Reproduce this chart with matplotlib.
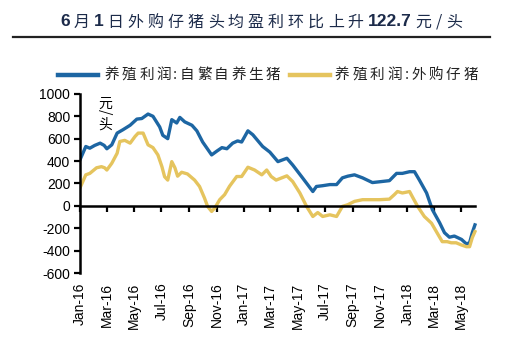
import matplotlib
matplotlib.use('Agg')
import matplotlib.pyplot as plt
import matplotlib.dates as mdates
from matplotlib.lines import Line2D
import pandas as pd

plt.rcParams['font.family'] = ['Liberation Sans', 'Noto Sans CJK SC', 'DejaVu Sans']
plt.rcParams['axes.unicode_minus'] = False

# 养殖利润:自繁自养生猪
dates_self = ['2016-01-01', '2016-01-14', '2016-01-23', '2016-02-03', '2016-02-15', '2016-02-24',
              '2016-03-01', '2016-03-12', '2016-03-24', '2016-04-06', '2016-04-22', '2016-05-07',
              '2016-05-18', '2016-06-01', '2016-06-12', '2016-06-27', '2016-07-04', '2016-07-15',
              '2016-07-24', '2016-08-04', '2016-08-11', '2016-08-22', '2016-09-07', '2016-09-18',
              '2016-10-01', '2016-10-21', '2016-11-02', '2016-11-13', '2016-11-24', '2016-12-07',
              '2016-12-18', '2016-12-27', '2017-01-10', '2017-01-21', '2017-02-12', '2017-02-28',
              '2017-03-18', '2017-04-07', '2017-04-20', '2017-05-12', '2017-06-04', '2017-06-12',
              '2017-06-26', '2017-07-12', '2017-07-27', '2017-08-09', '2017-08-21', '2017-09-05',
              '2017-09-23', '2017-10-15', '2017-10-31', '2017-11-22', '2017-12-08', '2017-12-21',
              '2018-01-06', '2018-01-17', '2018-01-28', '2018-02-13', '2018-02-26', '2018-03-14',
              '2018-03-25', '2018-04-05', '2018-04-16', '2018-05-02', '2018-05-13', '2018-05-20',
              '2018-05-26', '2018-06-01']
profit_self = [411, 530, 515, 540, 560, 540,
               510, 545, 650, 680, 720, 775,
               780, 820, 800, 705, 630, 600,
               770, 740, 790, 750, 720, 670,
               570, 455, 490, 520, 510, 560,
               580, 570, 670, 635, 530, 480,
               395, 425, 365, 250, 128, 173,
               180, 190, 190, 250, 265, 277,
               250, 208, 215, 225, 290, 290,
               305, 305, 230, 115, -35, -150,
               -240, -280, -270, -300, -340, -330,
               -240, -170]

# 养殖利润:外购仔猪
dates_buy = ['2016-01-01', '2016-01-14', '2016-01-23', '2016-02-07', '2016-02-18', '2016-02-25',
             '2016-03-01', '2016-03-12', '2016-03-24', '2016-03-30', '2016-04-10', '2016-04-22',
             '2016-05-03', '2016-05-10', '2016-05-21', '2016-06-01', '2016-06-12', '2016-06-23',
             '2016-07-02', '2016-07-08', '2016-07-15', '2016-07-24', '2016-07-31', '2016-08-06',
             '2016-08-15', '2016-08-28', '2016-09-13', '2016-09-24', '2016-10-05', '2016-10-12',
             '2016-10-21', '2016-10-28', '2016-11-08', '2016-11-19', '2016-11-30', '2016-12-16',
             '2016-12-27', '2017-01-10', '2017-01-25', '2017-02-10', '2017-02-21', '2017-03-03',
             '2017-03-14', '2017-04-07', '2017-04-20', '2017-05-06', '2017-05-21', '2017-06-04',
             '2017-06-15', '2017-06-26', '2017-07-12', '2017-07-27', '2017-08-09', '2017-08-21',
             '2017-09-05', '2017-09-23', '2017-10-15', '2017-10-31', '2017-11-22', '2017-12-03',
             '2017-12-10', '2017-12-21', '2018-01-06', '2018-01-12', '2018-01-24', '2018-02-08',
             '2018-02-24', '2018-03-09', '2018-03-20', '2018-03-31', '2018-04-09', '2018-04-20',
             '2018-05-02', '2018-05-13', '2018-05-20', '2018-05-26', '2018-06-01']
profit_buy = [160, 277, 290, 340, 350, 340,
              320, 380, 470, 575, 585, 560,
              620, 650, 650, 545, 520, 455,
              350, 260, 230, 395, 340, 265,
              300, 285, 230, 173, 70, -5,
              -50, -20, 55, 100, 175, 262,
              262, 345, 320, 277, 320, 262,
              230, 268, 217, 115, -5, -95,
              -60, -95, -80, -95, -5, 10,
              40, 55, 55, 55, 60, 100,
              128, 115, 128, 83, -5, -95,
              -155, -245, -320, -320, -330, -330,
              -350, -365, -365, -285, -230]

series_names = ['养殖利润:自繁自养生猪', '养殖利润:外购仔猪']
yticks = [1000, 800, 600, 400, 200, 0, -200, -400, -600]
xtick_dates = pd.date_range('2016-01-01', '2018-05-01', freq='2MS')

blue = '#1d66a3'
yellow = '#e5c45e'
navy = '#1c2b4a'

fig = plt.figure(figsize=(5.2, 3.53), dpi=100)
ax = fig.add_axes([0.1538, 0.2266, 0.763, 0.5074])

l1, = ax.plot(pd.to_datetime(dates_self), profit_self, color=blue, lw=2.4, solid_joinstyle='round')
l2, = ax.plot(pd.to_datetime(dates_buy), profit_buy, color=yellow, lw=2.4, solid_joinstyle='round')

x_start = mdates.date2num(pd.Timestamp('2016-01-01'))
x_end = mdates.date2num(pd.Timestamp('2018-06-01'))
ax.set_ylim(-600, 1000)
ax.set_xlim(x_start, mdates.date2num(pd.Timestamp('2018-06-05')))
ax.set_yticks(yticks)
ax.tick_params(axis='y', labelsize=10, direction='out', length=4, width=1.6, pad=3)

for s in ['top', 'right']:
    ax.spines[s].set_visible(False)
ax.spines['left'].set_linewidth(1.8)
ax.spines['left'].set_bounds(-600, 1000)
ax.spines['bottom'].set_position(('data', 0))
ax.spines['bottom'].set_linewidth(1.8)
ax.spines['bottom'].set_bounds(x_start, x_end)
ax.set_xticks(mdates.date2num(xtick_dates))
ax.tick_params(axis='x', labelbottom=False, direction='out', length=4, width=1.6)

sec = ax.secondary_xaxis(0)
sec.set_xticks(mdates.date2num(xtick_dates))
sec.xaxis.set_major_formatter(mdates.DateFormatter('%b-%y'))
sec.spines['bottom'].set_visible(False)
sec.tick_params(axis='x', length=0, labelsize=10, rotation=90, pad=7)

# unit label
ax.text(0.063, 0.985, '元', transform=ax.transAxes, ha='center', va='top', fontsize=10,
        family='Noto Sans CJK SC')
ax.text(0.063, 0.915, '/', transform=ax.transAxes, ha='center', va='top', fontsize=10,
        rotation=-90, family='Noto Sans CJK SC')
ax.text(0.063, 0.87, '头', transform=ax.transAxes, ha='center', va='top', fontsize=10,
        family='Noto Sans CJK SC')

fig.canvas.draw()
r = fig.canvas.get_renderer()
W, H = fig.bbox.width, fig.bbox.height


def spaced(tokens, left, right, y, **kw):
    # place tokens one by one, evenly spread between left and right (pixels)
    ts = []
    for s, extra in tokens:
        opts = dict(kw)
        opts.update(extra)
        ts.append(fig.text(0, y, s, va='center', ha='left', **opts))
    widths = [t.get_window_extent(r).width for t in ts]
    gap = (right - left - sum(widths)) / (len(ts) - 1)
    x = left
    for t, wd in zip(ts, widths):
        t.set_x(x / W)
        x += wd + gap


# legend, drawn by hand to keep the wide letter spacing
ly = 1 - 75 / H
cjk = {'family': ['Noto Sans CJK SC', 'Liberation Sans']}
for line, name, hx, tx in [(l1, series_names[0], (58, 98), (105, 280)),
                           (l2, series_names[1], (290, 330), (335, 478))]:
    fig.add_artist(Line2D([hx[0] / W, hx[1] / W], [ly, ly], color=line.get_color(), lw=3.2))
    spaced([(ch, {}) for ch in name], tx[0], tx[1], ly, fontsize=10.5, color='#222222', **cjk)

# title: spaced characters, bold numbers
title_parts = [('6', 'bold'), ('月', 'normal'), ('1', 'bold'), ('日外购仔猪头均盈利环比上升', 'normal'),
               ('122.7', 'bold'), ('元/头', 'normal')]
tokens = []
for s, w in title_parts:
    if w == 'bold':
        tokens.append((s, {'fontsize': 12.5, 'weight': 'bold', 'family': 'Liberation Sans'}))
    else:
        tokens += [(ch, {'fontsize': 11.5, 'family': ['Noto Sans CJK SC', 'Liberation Sans']}) for ch in s]
spaced(tokens, 60, 462, 1 - 22 / H, color=navy)

fig.add_artist(Line2D([13 / W, 490 / W], [1 - 37 / H, 1 - 37 / H], color='#222222', lw=1.6))

fig.savefig('out.png', dpi=100)
